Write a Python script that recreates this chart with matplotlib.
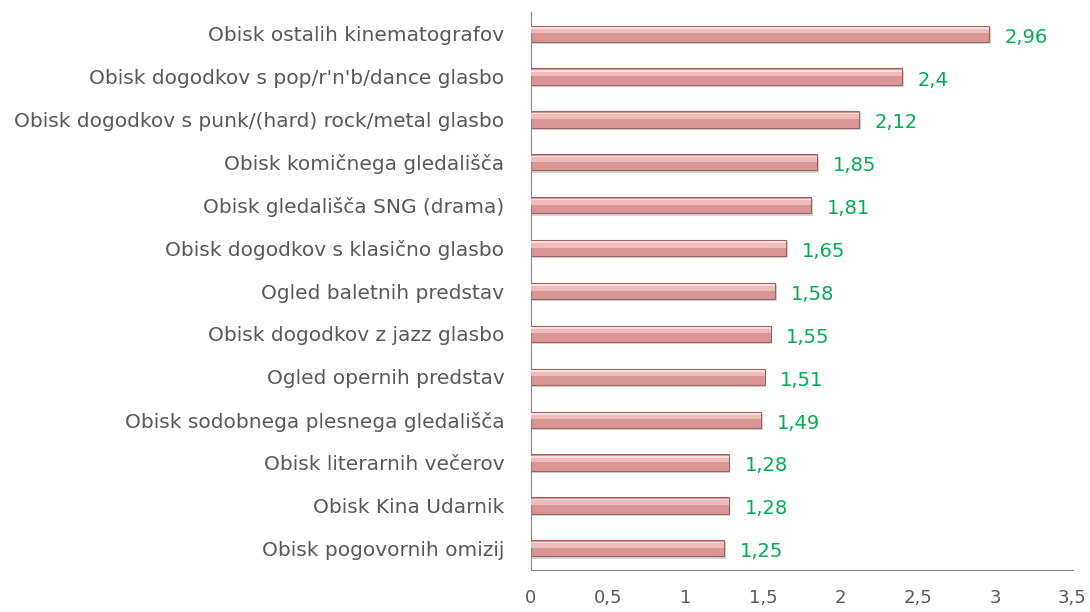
import numpy as np
import matplotlib
matplotlib.use("Agg")
import matplotlib.pyplot as plt

plt.rcParams['font.family'] = ['DejaVu Sans']

categories = [
    "Obisk ostalih kinematografov",
    "Obisk dogodkov s pop/r'n'b/dance glasbo",
    "Obisk dogodkov s punk/(hard) rock/metal glasbo",
    "Obisk komičnega gledališča",
    "Obisk gledališča SNG (drama)",
    "Obisk dogodkov s klasično glasbo",
    "Ogled baletnih predstav",
    "Obisk dogodkov z jazz glasbo",
    "Ogled opernih predstav",
    "Obisk sodobnega plesnega gledališča",
    "Obisk literarnih večerov",
    "Obisk Kina Udarnik",
    "Obisk pogovornih omizij",
]
values = [2.96, 2.4, 2.12, 1.85, 1.81, 1.65, 1.58, 1.55, 1.51, 1.49, 1.28, 1.28, 1.25]
xticks = [0, 0.5, 1, 1.5, 2, 2.5, 3, 3.5]

def fmt(v):
    return ("%g" % v).replace(".", ",")

fig = plt.figure(figsize=(10.9, 6.12), dpi=100)
ax = fig.add_axes([0.487, 0.069, 0.497, 0.911])

y = np.arange(len(categories))[::-1]
h = 0.38
# shadow, body and highlight for a bevelled look
ax.barh(y - 0.05, values, height=h, left=0.01, color="#d4d4d4", zorder=1)
ax.barh(y, values, height=h, color="#d99694", edgecolor="#9c6260", linewidth=0.8, zorder=2)
ax.barh(y + h * 0.2, values, height=h * 0.34, color="#eebcba", linewidth=0, zorder=3)
ax.barh(y + h * 0.36, values, height=h * 0.1, color="#f9dedd", linewidth=0, zorder=3)

for yi, v in zip(y, values):
    ax.text(v + 0.1, yi - 0.08, fmt(v), va="center", ha="left",
            color="#00b050", fontsize=14)

ax.set_xlim(0, 3.5)
ax.set_ylim(-0.5, len(categories) - 0.5)
ax.set_xticks(xticks)
ax.set_xticklabels([fmt(t) for t in xticks], color="#595959", fontsize=13)
ax.set_yticks(y)
ax.set_yticklabels(categories, color="#595959", fontsize=14.5)
ax.tick_params(axis="x", length=0, pad=14)
ax.tick_params(axis="y", length=0, pad=19)

for s in ["top", "right"]:
    ax.spines[s].set_visible(False)
ax.spines["left"].set_color("#868686")
ax.spines["bottom"].set_color("#868686")

fig.savefig("out.png", dpi=100)
